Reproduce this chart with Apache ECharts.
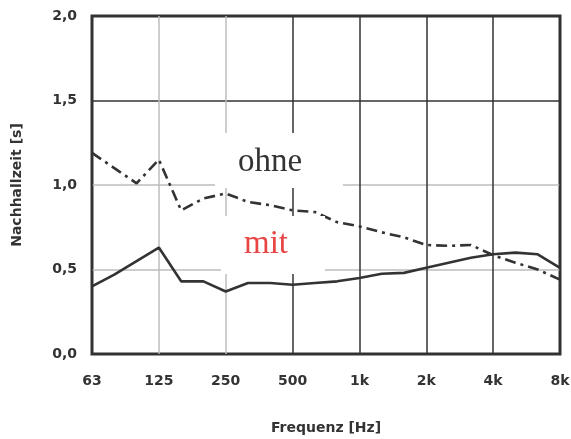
<!DOCTYPE html>
<html>
<head>
<meta charset="utf-8">
<script src="https://cdn.jsdelivr.net/npm/echarts@6/dist/echarts.min.js"></script>
<style>
  html, body { margin: 0; padding: 0; background: #fff; }
  #chart { width: 571px; height: 439px; }
</style>
</head>
<body>
<div id="chart"></div>
<script>
// Third-octave band centre frequencies
const bands = ['63', '80', '100', '125', '160', '200', '250', '315', '400', '500', '630', '800',
               '1k', '1.25k', '1.6k', '2k', '2.5k', '3.15k', '4k', '5k', '6.3k', '8k'];
// Octave labels shown on the axis
const tickLabels = ['63', '125', '250', '500', '1k', '2k', '4k', '8k'];
// Reverberation time without treatment [s]
const ohne = [1.19, 1.10, 1.01, 1.15, 0.85, 0.92, 0.95, 0.90, 0.88, 0.85, 0.84, 0.78,
              0.755, 0.72, 0.69, 0.645, 0.64, 0.645, 0.585, 0.54, 0.50, 0.44];
// Reverberation time with treatment [s]
const mit = [0.40, 0.47, 0.55, 0.63, 0.43, 0.43, 0.37, 0.42, 0.42, 0.41, 0.42, 0.43,
             0.45, 0.475, 0.48, 0.51, 0.54, 0.57, 0.59, 0.60, 0.59, 0.51];

const dark = '#333333';
const light = '#bdbdbd';
const labelFont = { color: dark, fontFamily: '"DejaVu Sans", sans-serif', fontWeight: 'bold', fontSize: 14 };

const chart = echarts.init(document.getElementById('chart'), null, { renderer: 'canvas' });
chart.setOption({
  animation: false,
  backgroundColor: '#fff',
  grid: {
    left: 92, right: 11, top: 16, bottom: 85,
    outerBoundsMode: 'none',
    containLabel: false,
    show: true, borderColor: dark, borderWidth: 3, backgroundColor: 'transparent'
  },
  xAxis: {
    type: 'category',
    data: bands,
    boundaryGap: false,
    name: 'Frequenz [Hz]',
    nameLocation: 'middle',
    nameGap: 67,
    nameTextStyle: labelFont,
    axisLine: { show: false },
    axisTick: { show: false },
    axisLabel: {
      interval: 2,
      margin: 20,
      ...labelFont,
      formatter: v => (tickLabels.includes(v) ? v : '')
    },
    splitLine: {
      show: true,
      interval: 2,
      lineStyle: { color: [dark, light, light, dark, dark, dark, dark, dark], width: 1.5 }
    }
  },
  yAxis: {
    type: 'value',
    min: 0,
    max: 2,
    interval: 0.5,
    name: 'Nachhallzeit [s]',
    nameLocation: 'middle',
    nameGap: 68,
    nameTextStyle: labelFont,
    axisLine: { show: false },
    axisTick: { show: false },
    axisLabel: { margin: 15, ...labelFont, formatter: v => v.toFixed(1).replace('.', ',') },
    splitLine: { show: true, lineStyle: { color: [dark, light, light, dark, dark], width: 1.5 } }
  },
  series: [
    {
      name: 'ohne',
      type: 'line',
      data: ohne,
      symbol: 'none',
      lineStyle: { color: dark, width: 2.6, type: [11, 5, 3, 5] },
      z: 3
    },
    {
      name: 'mit',
      type: 'line',
      data: mit,
      symbol: 'none',
      lineStyle: { color: dark, width: 2.6 },
      z: 3
    }
  ],
  graphic: [
    { type: 'rect', shape: { x: 215, y: 133, width: 128, height: 55 }, style: { fill: '#fff' }, z: 10 },
    { type: 'text', x: 270, y: 162, style: { text: 'ohne', fill: '#333', font: '33px "Liberation Serif", serif', align: 'center', verticalAlign: 'middle' }, z: 11 },
    { type: 'rect', shape: { x: 221, y: 216, width: 104, height: 58 }, style: { fill: '#fff' }, z: 10 },
    { type: 'text', x: 266, y: 244, style: { text: 'mit', fill: '#e84545', font: '33px "Liberation Serif", serif', align: 'center', verticalAlign: 'middle' }, z: 11 }
  ]
});
</script>
</body>
</html>
